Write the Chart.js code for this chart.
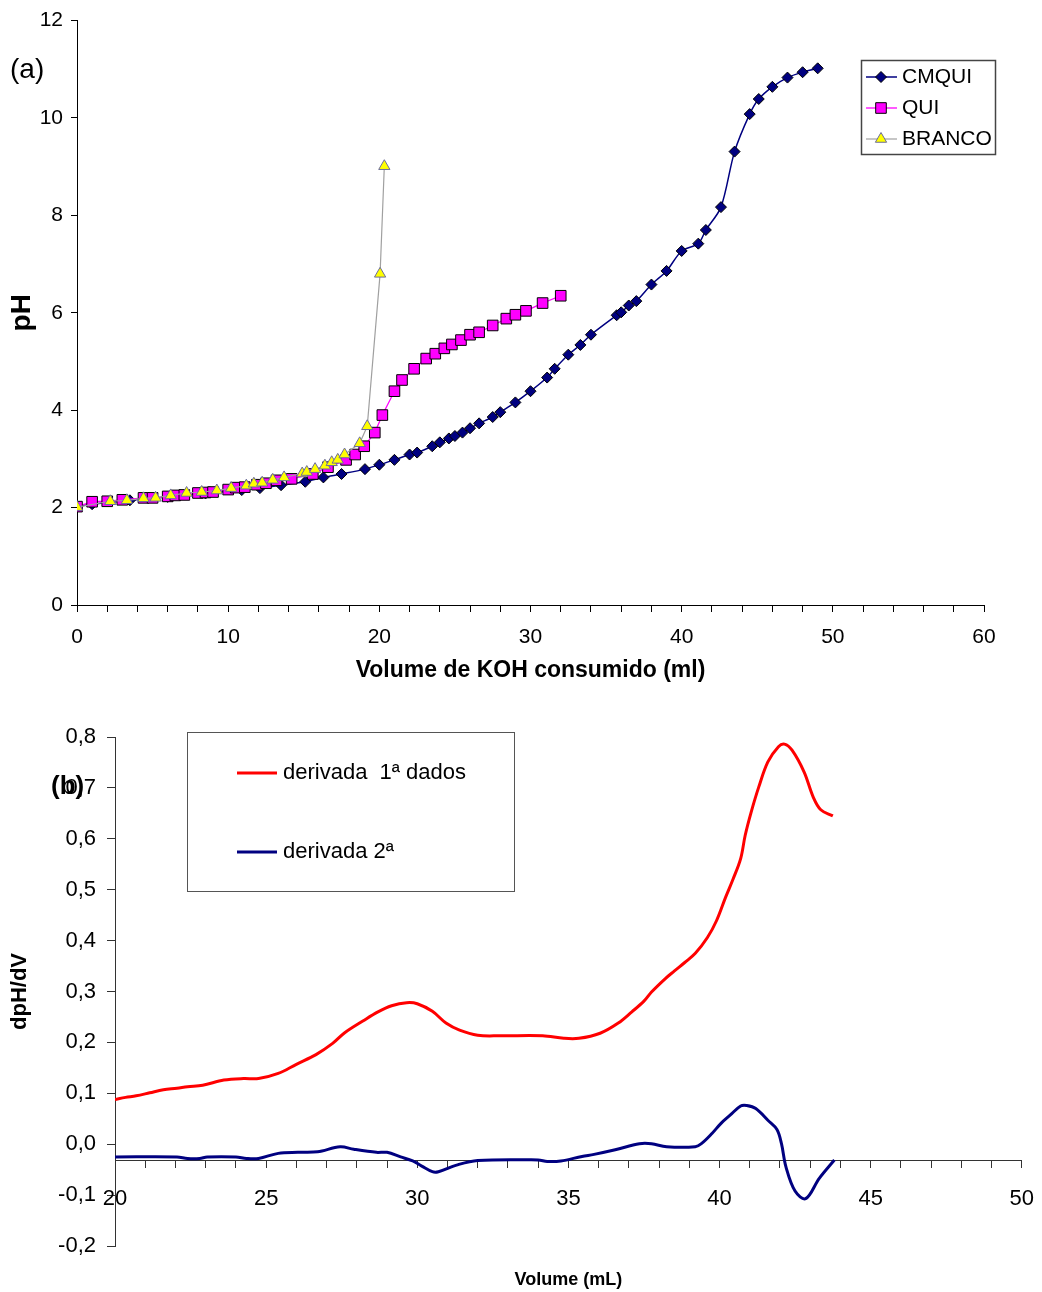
<!DOCTYPE html>
<html><head><meta charset="utf-8">
<script src="https://cdn.jsdelivr.net/npm/chart.js@4/dist/chart.umd.min.js"></script>
<style>
html,body{margin:0;padding:0;background:#fff;width:1042px;height:1292px;overflow:hidden}
#wrapA{position:absolute;left:0;top:0;width:1042px;height:700px}
#wrapB{position:absolute;left:0;top:700px;width:1042px;height:592px}
canvas{display:block}
</style></head><body>
<div id="wrapA"><canvas id="chartA" width="1042" height="700"></canvas></div>
<div id="wrapB"><canvas id="chartB" width="1042" height="592"></canvas></div>
<script>
// ---------- Panel (a): titration curves ----------
const seriesNamesA = ['CMQUI', 'QUI', 'BRANCO'];
const cmquiVolume = [0, 1, 3.5, 6, 8.5, 10.9, 12.1, 13.5, 15.1, 16.3, 17.5, 19.05, 20, 21, 22, 22.5, 23.5, 24, 24.6, 25, 25.5, 26, 26.6, 27.5, 28, 29, 30, 31.1, 31.6, 32.5, 33.3, 34, 35.7, 36, 36.5, 37, 38, 39, 40, 41.1, 41.6, 42.6, 43.5, 44.5, 45.1, 46, 47, 48, 49];
const cmquiPH = [2.02, 2.07, 2.15, 2.22, 2.29, 2.36, 2.40, 2.46, 2.53, 2.62, 2.69, 2.79, 2.88, 2.98, 3.09, 3.13, 3.26, 3.34, 3.42, 3.47, 3.54, 3.63, 3.73, 3.86, 3.96, 4.16, 4.39, 4.67, 4.85, 5.14, 5.34, 5.55, 5.95, 6.01, 6.15, 6.24, 6.58, 6.86, 7.27, 7.42, 7.70, 8.17, 9.31, 10.08, 10.39, 10.64, 10.83, 10.94, 11.02];
const quiVolume = [0, 1, 2, 3, 4.4, 5, 6, 6.5, 7.1, 8, 8.5, 9, 10, 10.5, 11.1, 11.9, 12.5, 13.2, 14.2, 15.6, 16.6, 17.8, 18.4, 19, 19.7, 20.2, 21, 21.5, 22.3, 23.1, 23.7, 24.3, 24.8, 25.4, 26, 26.6, 27.5, 28.4, 29, 29.7, 30.8, 32];
const quiPH = [2.02, 2.12, 2.13, 2.16, 2.20, 2.20, 2.23, 2.25, 2.26, 2.30, 2.31, 2.32, 2.37, 2.41, 2.42, 2.47, 2.50, 2.56, 2.59, 2.69, 2.83, 2.98, 3.09, 3.26, 3.54, 3.90, 4.39, 4.62, 4.85, 5.06, 5.16, 5.27, 5.35, 5.44, 5.55, 5.60, 5.74, 5.88, 5.96, 6.04, 6.20, 6.35];
const brancoVolume = [0, 2.2, 3.3, 4.4, 5.2, 6.2, 7.25, 8.25, 9.25, 10.2, 11.2, 11.7, 12.25, 12.95, 13.7, 14.9, 15.2, 15.75, 16.4, 16.85, 17.25, 17.7, 18.7, 19.2, 20.05, 20.33];
const brancoPH = [2.01, 2.13, 2.15, 2.19, 2.20, 2.25, 2.30, 2.32, 2.35, 2.40, 2.45, 2.49, 2.51, 2.57, 2.62, 2.70, 2.73, 2.79, 2.86, 2.93, 2.98, 3.09, 3.32, 3.67, 6.80, 9.01];
const xTickLabelsA = [0, 10, 20, 30, 40, 50, 60];
const yTickLabelsA = [0, 2, 4, 6, 8, 10, 12];

// ---------- Panel (b): derivatives ----------
const seriesNamesB = ['derivada  1\u00aa dados', 'derivada 2\u00aa'];
const deriv1Volume = [20.0, 20.35, 20.7, 21.15, 21.6, 22.05, 22.4, 22.9, 23.6, 24.25, 24.75, 25.4, 26.0, 26.65, 27.2, 27.6, 28.2, 28.7, 29.15, 29.65, 30.0, 30.5, 30.95, 31.4, 32.0, 32.75, 34.15, 34.85, 35.35, 36.05, 36.65, 37.1, 37.5, 37.75, 38.2, 38.5, 38.85, 39.2, 39.6, 39.9, 40.2, 40.45, 40.7, 40.85, 41.05, 41.3, 41.6, 41.95, 42.15, 42.4, 42.8, 43.1, 43.35, 43.75];
const deriv1Value = [0.088, 0.092, 0.095, 0.101, 0.107, 0.110, 0.113, 0.116, 0.126, 0.129, 0.129, 0.139, 0.157, 0.176, 0.198, 0.219, 0.242, 0.260, 0.272, 0.278, 0.276, 0.261, 0.238, 0.224, 0.214, 0.213, 0.213, 0.208, 0.208, 0.218, 0.238, 0.260, 0.281, 0.299, 0.325, 0.340, 0.357, 0.375, 0.406, 0.439, 0.485, 0.521, 0.561, 0.607, 0.653, 0.702, 0.751, 0.781, 0.786, 0.774, 0.731, 0.682, 0.657, 0.645];
const deriv2Volume = [20.0, 22.05, 22.4, 22.8, 23.05, 24.0, 24.35, 24.75, 25.4, 26.05, 26.7, 27.45, 27.9, 28.65, 29.0, 29.45, 29.85, 30.15, 30.5, 30.7, 31.3, 32.0, 34.0, 34.3, 34.75, 35.45, 35.85, 36.55, 37.35, 37.75, 38.25, 39.2, 39.4, 39.75, 40.05, 40.35, 40.7, 40.9, 41.2, 41.6, 41.9, 42.05, 42.2, 42.5, 42.85, 43.3, 43.8];
const deriv2Value = [-0.025, -0.025, -0.028, -0.028, -0.025, -0.025, -0.028, -0.028, -0.018, -0.016, -0.015, -0.005, -0.010, -0.016, -0.016, -0.025, -0.033, -0.043, -0.054, -0.054, -0.041, -0.032, -0.031, -0.034, -0.033, -0.024, -0.020, -0.011, 0.001, 0.001, -0.005, -0.005, 0.001, 0.021, 0.041, 0.057, 0.075, 0.076, 0.070, 0.047, 0.029, 0.001, -0.045, -0.092, -0.107, -0.067, -0.031];
const xTickLabelsB = [20, 25, 30, 35, 40, 45, 50];
const yTickLabelsB = [-0.2, -0.1, 0, 0.1, 0.2, 0.3, 0.4, 0.5, 0.6, 0.7, 0.8];
const xAxisCrossB = -0.032;

const FONT = "'Liberation Sans', Arial, Helvetica, sans-serif";
Chart.defaults.font.family = FONT;
Chart.defaults.color = '#000';

function pts(xs, ys) { return xs.map((x, i) => ({x: x, y: ys[i]})); }

function drawMarker(ctx, style, x, y, r, fill, stroke, lw) {
  ctx.beginPath();
  if (style === 'rectRot') {
    ctx.moveTo(x, y - r); ctx.lineTo(x + r, y); ctx.lineTo(x, y + r); ctx.lineTo(x - r, y); ctx.closePath();
  } else if (style === 'rect') {
    const s = r * Math.SQRT1_2; ctx.rect(x - s, y - s, 2 * s, 2 * s);
  } else if (style === 'triangle') {
    let a = 0;
    ctx.moveTo(x + Math.sin(a) * r, y - Math.cos(a) * r);
    a += 2 * Math.PI / 3; ctx.lineTo(x + Math.sin(a) * r, y - Math.cos(a) * r);
    a += 2 * Math.PI / 3; ctx.lineTo(x + Math.sin(a) * r, y - Math.cos(a) * r);
    ctx.closePath();
  }
  ctx.fillStyle = fill; ctx.fill();
  ctx.lineWidth = lw; ctx.strokeStyle = stroke; ctx.stroke();
}

const annotatePlugin = {
  id: 'annotate',
  afterDraw(chart, args, opts) {
    const ctx = chart.ctx;
    ctx.save();
    const lg = opts.legend;
    if (lg) {
      ctx.fillStyle = '#fff';
      ctx.fillRect(lg.box[0], lg.box[1], lg.box[2] - lg.box[0], lg.box[3] - lg.box[1]);
      ctx.lineWidth = lg.boxLineWidth; ctx.strokeStyle = lg.boxColor;
      ctx.strokeRect(lg.box[0] + 0.5, lg.box[1] + 0.5, lg.box[2] - lg.box[0], lg.box[3] - lg.box[1]);
      lg.items.forEach((it) => {
        const ds = chart.data.datasets[it.dataset];
        ctx.beginPath();
        ctx.moveTo(lg.lineX[0], it.y); ctx.lineTo(lg.lineX[1], it.y);
        ctx.lineWidth = ds.borderWidth; ctx.strokeStyle = ds.borderColor; ctx.stroke();
        if (ds.pointRadius > 0) {
          drawMarker(ctx, ds.pointStyle, lg.markerX, it.y, ds.pointRadius, ds.pointBackgroundColor, ds.pointBorderColor, ds.pointBorderWidth);
        }
        ctx.fillStyle = '#000'; ctx.font = lg.font; ctx.textBaseline = 'middle'; ctx.textAlign = 'left';
        ctx.fillText(ds.label, lg.textX, it.y);
      });
    }
    (opts.texts || []).forEach((t) => {
      ctx.fillStyle = '#000'; ctx.font = t.font; ctx.textBaseline = 'middle'; ctx.textAlign = 'left';
      ctx.fillText(t.text, t.x, t.y);
    });
    ctx.restore();
  }
};

// ---------- Chart A ----------
new Chart(document.getElementById('chartA'), {
  type: 'scatter',
  data: {
    datasets: [
      { label: seriesNamesA[0], data: pts(cmquiVolume, cmquiPH), showLine: true, tension: 0.3,
        borderColor: '#000080', borderWidth: 1.5, pointStyle: 'rectRot', pointRadius: 5.5,
        pointBackgroundColor: '#000080', pointBorderColor: '#000', pointBorderWidth: 1, order: 3 },
      { label: seriesNamesA[1], data: pts(quiVolume, quiPH), showLine: true, tension: 0,
        borderColor: '#ff00ff', borderWidth: 1.3, pointStyle: 'rect', pointRadius: 7.5,
        pointBackgroundColor: '#ff00ff', pointBorderColor: '#000', pointBorderWidth: 1, order: 2 },
      { label: seriesNamesA[2], data: pts(brancoVolume, brancoPH), showLine: true, tension: 0,
        borderColor: '#a0a0a0', borderWidth: 1.2, pointStyle: 'triangle', pointRadius: 6.5,
        pointBackgroundColor: '#ffff00', pointBorderColor: '#6b6b9e', pointBorderWidth: 1, order: 1 }
    ]
  },
  options: {
    responsive: false, animation: false, devicePixelRatio: 1,
    layout: { padding: { left: 0, top: 18, right: 58, bottom: 0 } },
    plugins: {
      legend: { display: false }, tooltip: { enabled: false },
      annotate: {
        texts: [{ text: '(a)', x: 10, y: 70, font: '28px ' + FONT }],
        legend: {
          box: [861, 60, 995, 154], boxColor: '#444', boxLineWidth: 1.5,
          lineX: [866, 897], markerX: 881, textX: 902, font: '21px ' + FONT,
          items: [{ dataset: 0, y: 77 }, { dataset: 1, y: 108 }, { dataset: 2, y: 139 }]
        }
      }
    },
    scales: {
      x: {
        type: 'linear', position: 'bottom', min: 0, max: 60,
        afterFit: (s) => { s.height = 95; },
        ticks: { stepSize: 2, autoSkip: false, maxRotation: 0, padding: 13,
                 font: { size: 21 }, color: '#000',
                 callback: (v) => (xTickLabelsA.includes(v) ? String(v) : '') },
        grid: { display: true, drawOnChartArea: false, drawTicks: true, tickLength: 7, color: '#000', lineWidth: 1 },
        border: { display: true, color: '#000', width: 1 },
        title: { display: true, text: 'Volume de KOH consumido (ml)', font: { size: 23, weight: 'bold' }, color: '#000', padding: { top: 0, bottom: 16 } }
      },
      y: {
        type: 'linear', position: 'left', min: 0, max: 12,
        afterFit: (s) => { s.width = 77; },
        ticks: { stepSize: 2, autoSkip: false, padding: 8, font: { size: 21 }, color: '#000',
                 callback: (v) => (yTickLabelsA.includes(v) ? String(v) : '') },
        grid: { display: true, drawOnChartArea: false, drawTicks: true, tickLength: 6, color: '#000', lineWidth: 1 },
        border: { display: true, color: '#000', width: 1 },
        title: { display: true, text: 'pH', font: { size: 28, weight: 'bold' }, color: '#000', padding: { top: 5, bottom: 0 } }
      }
    }
  },
  plugins: [annotatePlugin]
});

// ---------- Chart B ----------
function fmtComma(v) {
  const r = Math.round(v * 10) / 10;
  return (r === 0 ? 0 : r).toFixed(1).replace('.', ',');
}
new Chart(document.getElementById('chartB'), {
  type: 'scatter',
  data: {
    datasets: [
      { label: seriesNamesB[0], data: pts(deriv1Volume, deriv1Value), showLine: true, tension: 0.35,
        borderColor: '#ff0000', borderWidth: 3, pointRadius: 0, order: 2 },
      { label: seriesNamesB[1], data: pts(deriv2Volume, deriv2Value), showLine: true, tension: 0.35,
        borderColor: '#000080', borderWidth: 3, pointRadius: 0, order: 1 }
    ]
  },
  options: {
    responsive: false, animation: false, devicePixelRatio: 1,
    layout: { padding: { left: 0, top: 37, right: 12, bottom: 46 } },
    plugins: {
      legend: { display: false }, tooltip: { enabled: false },
      annotate: {
        texts: [{ text: '(b)', x: 51, y: 87, font: 'bold 26px ' + FONT }],
        legend: {
          box: [187, 32, 514, 191], boxColor: '#555', boxLineWidth: 1,
          lineX: [237, 277], markerX: 257, textX: 283, font: '22px ' + FONT,
          items: [{ dataset: 0, y: 73 }, { dataset: 1, y: 152 }]
        }
      }
    },
    scales: {
      x: {
        type: 'linear', position: { y: xAxisCrossB }, min: 20, max: 50,
        afterFit: (s) => { s.height = 134; },
        ticks: { stepSize: 1, autoSkip: false, maxRotation: 0, padding: 8, font: { size: 22, lineHeight: 2.1 }, color: '#000',
                 callback: (v) => (xTickLabelsB.includes(v) ? String(v) : '') },
        grid: { display: true, drawOnChartArea: false, drawTicks: true, tickLength: 7, color: '#333', lineWidth: 1 },
        border: { display: true, color: '#333', width: 1 },
        title: { display: true, text: 'Volume (mL)', font: { size: 18, weight: 'bold' }, color: '#000', padding: { top: 0, bottom: 4 } }
      },
      y: {
        type: 'linear', position: 'left', min: -0.2, max: 0.8,
        afterFit: (s) => { s.width = 115; },
        ticks: { stepSize: 0.1, autoSkip: false, padding: 11, font: { size: 22 }, color: '#000',
                 callback: (v) => (yTickLabelsB.some((t) => Math.abs(t - v) < 1e-6) ? fmtComma(v) : '') },
        grid: { display: true, drawOnChartArea: false, drawTicks: true, tickLength: 8, color: '#333', lineWidth: 1 },
        border: { display: true, color: '#333', width: 1 },
        title: { display: true, text: 'dpH/dV', font: { size: 22, weight: 'bold' }, color: '#000', padding: { top: 7, bottom: 0 } }
      }
    }
  },
  plugins: [annotatePlugin]
});
</script>
</body></html>
